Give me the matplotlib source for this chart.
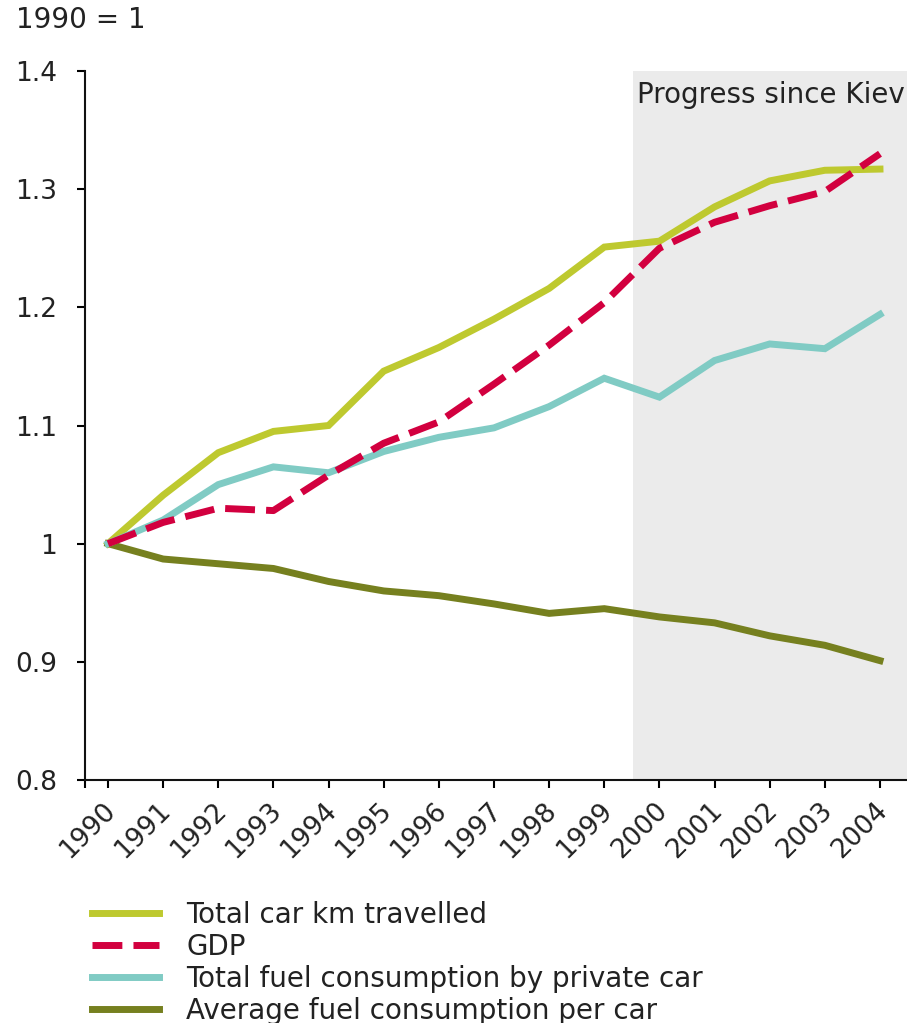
import matplotlib
matplotlib.use("Agg")
from matplotlib import pyplot as plt
from matplotlib.transforms import ScaledTranslation

# data (index, 1990 = 1)
years = list(range(1990, 2005))
car_km = [1.000, 1.041, 1.077, 1.095, 1.100, 1.146, 1.166, 1.190, 1.216, 1.251,
          1.256, 1.285, 1.307, 1.316, 1.317]
gdp = [1.000, 1.018, 1.030, 1.028, 1.058, 1.085, 1.103, 1.135, 1.168, 1.204,
       1.250, 1.272, 1.286, 1.298, 1.330]
fuel_total = [1.000, 1.020, 1.050, 1.065, 1.060, 1.078, 1.090, 1.098, 1.116, 1.140,
              1.124, 1.155, 1.169, 1.165, 1.194]
fuel_per_car = [1.000, 0.987, 0.983, 0.979, 0.968, 0.960, 0.956, 0.949, 0.941, 0.945,
                0.938, 0.933, 0.922, 0.914, 0.901]
labels = ["Total car km travelled", "GDP",
          "Total fuel consumption by private car",
          "Average fuel consumption per car"]
yticks = [0.8, 0.9, 1.0, 1.1, 1.2, 1.3, 1.4]
ytick_labels = ["0.8", "0.9", "1", "1.1", "1.2", "1.3", "1.4"]

txt = "#222222"
fs = 20
tfs = 19
plt.rcParams["font.family"] = ["DejaVu Sans"]

W, H = 907, 1023
fig = plt.figure(figsize=(W / 100, H / 100), dpi=100)
ax = fig.add_axes([85 / W, (H - 780) / H, (W - 85) / W, (780 - 71) / H])

# shaded "since Kiev" period
ax.axvspan(1999.52, 2004.6, color="#ebebeb", lw=0, zorder=0)
ax.text(1999.6, 1.38, "Progress since Kiev", fontsize=fs, color=txt,
        ha="left", va="center", zorder=1)

lw = 5
l1, = ax.plot(years, car_km, color="#bec92f", lw=lw, zorder=3,
              solid_joinstyle="miter", label=labels[0])
l4, = ax.plot(years, fuel_per_car, color="#76801f", lw=lw, zorder=3,
              solid_joinstyle="miter", label=labels[3])
l3, = ax.plot(years, fuel_total, color="#80cbc4", lw=lw, zorder=4,
              solid_joinstyle="miter", label=labels[2])
l2, = ax.plot(years, gdp, color="#d2003f", lw=lw, zorder=5,
              dashes=(4.3, 1.6), dash_capstyle="butt", label=labels[1])

ax.set_xlim(1989.583, 2004.49)
ax.set_ylim(0.8, 1.4)
ax.set_yticks(yticks)
ax.set_yticklabels(ytick_labels)
ax.set_xticks(years)
ax.set_xticks([1989.583], minor=True)

for s in ["top", "right"]:
    ax.spines[s].set_visible(False)
for s in ["left", "bottom"]:
    ax.spines[s].set_linewidth(1.5)
    ax.spines[s].set_color("#111111")

ax.tick_params(axis="y", direction="out", length=6, width=1.5, pad=14,
               labelsize=tfs, labelcolor=txt)
ax.tick_params(axis="x", which="both", direction="out", length=5.5, width=1.5,
               pad=7, labelsize=tfs, labelcolor=txt)

ax.set_xticklabels([str(y) for y in years], rotation=45, ha="right", va="top")
# year labels sit a little to the right of their ticks
shift = ScaledTranslation(13 / 100, 0, fig.dpi_scale_trans)
for lab in ax.get_xticklabels():
    lab.set_transform(lab.get_transform() + shift)

fig.text(16 / W, 1 - 20 / H, "1990 = 1", fontsize=fs, color=txt,
         ha="left", va="center")

fig.legend(handles=[l1, l2, l3, l4], labels=labels, loc="upper left",
           bbox_to_anchor=(92 / W, 1 - 901 / H), frameon=False, fontsize=fs,
           handlelength=2.4, handletextpad=1.0, labelspacing=0.14,
           borderpad=0, borderaxespad=0, labelcolor=txt)

fig.savefig("out.png", dpi=100)
